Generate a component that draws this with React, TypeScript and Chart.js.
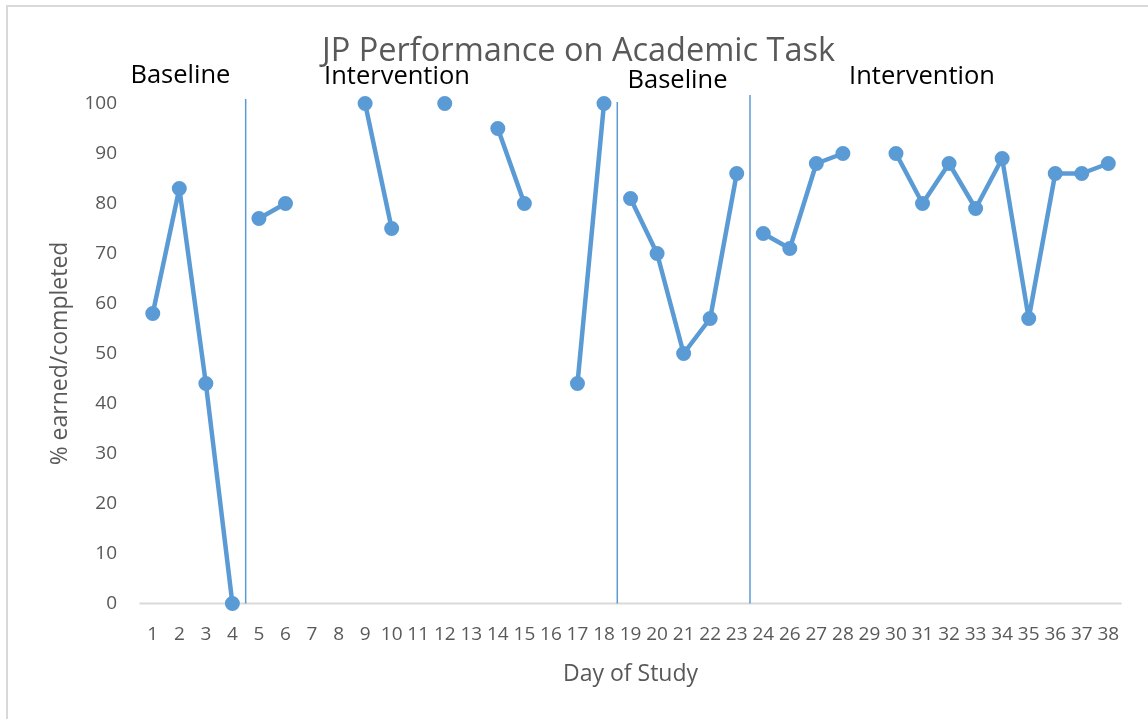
import React, { useEffect, useRef } from "react";
import { Chart, registerables } from "chart.js";

Chart.register(...registerables);

// ---- data ----
const days = [
  "1", "2", "3", "4", "5", "6", "7", "8", "9", "10", "11", "12", "13", "14", "15", "16", "17", "18",
  "19", "20", "21", "22", "23", "24", "26", "27", "28", "29", "30", "31", "32", "33", "34", "35", "36", "37", "38",
];
// Baseline (days 1–4)
const baseline1 = [58, 83, 44, 0];
// Intervention (days 5–18)
const intervention1 = [77, 80, null, null, 100, 75, null, 100, null, 95, 80, null, 44, 100];
// Baseline (days 19–23)
const baseline2 = [81, 70, 50, 57, 86];
// Intervention (days 24, 26–38)
const intervention2 = [74, 71, 88, 90, null, 90, 80, 88, 79, 89, 57, 86, 86, 88];

const phaseNames = ["Baseline", "Intervention", "Baseline", "Intervention"];
const phaseStartIndex = [0, 4, 18, 23];
// phase-change lines (category index position, top value)
const phaseLineAt = [3.5, 17.5, 22.5];
const phaseLineTop = [100.9, 100.3, 101.7];
// phase label anchors (category index centre, value at text baseline)
const phaseLabelX = [1.04, 9.2, 19.77, 28.98];
const phaseLabelY = [104.1, 103.9, 103.1, 103.9];

const yTicks = [0, 10, 20, 30, 40, 50, 60, 70, 80, 90, 100];

const TITLE = "JP Performance on Academic Task";
const X_TITLE = "Day of Study";
const Y_TITLE = "% earned/completed";

const BLUE = "#5b9bd5";
const GRAY = "#595959";
const AXIS = "#d9d9d9";
const FONT = "'Open Sans', sans-serif";

function place(values: (number | null)[], start: number): (number | null)[] {
  const out: (number | null)[] = days.map(() => null);
  values.forEach((v, i) => {
    out[start + i] = v;
  });
  return out;
}

const W = 1148;
const H = 719;

export default function App() {
  const ref = useRef<HTMLCanvasElement | null>(null);

  useEffect(() => {
    const canvas = ref.current;
    if (!canvas) return;
    const series = [baseline1, intervention1, baseline2, intervention2];

    const decor = {
      id: "decor",
      beforeDraw(chart: any) {
        const ctx = chart.ctx;
        ctx.save();
        ctx.fillStyle = "#ffffff";
        ctx.fillRect(0, 0, W, H);
        ctx.strokeStyle = AXIS;
        ctx.lineWidth = 2;
        ctx.strokeRect(7, 6, 3000, 3000);
        ctx.restore();
      },
      beforeDatasetsDraw(chart: any) {
        const ctx = chart.ctx;
        const xs = chart.scales.x;
        const ys = chart.scales.y;
        const area = chart.chartArea;
        ctx.save();
        // x axis line
        ctx.strokeStyle = AXIS;
        ctx.lineWidth = 2;
        ctx.beginPath();
        ctx.moveTo(area.left, area.bottom);
        ctx.lineTo(area.right, area.bottom);
        ctx.stroke();
        // phase lines
        ctx.strokeStyle = BLUE;
        ctx.lineWidth = 1.5;
        phaseLineAt.forEach((p, i) => {
          const fl = Math.floor(p);
          const x0 = xs.getPixelForValue(fl);
          const x1 = xs.getPixelForValue(fl + 1);
          const x = x0 + (x1 - x0) * (p - fl);
          ctx.beginPath();
          ctx.moveTo(x, ys.getPixelForValue(phaseLineTop[i]));
          ctx.lineTo(x, area.bottom);
          ctx.stroke();
        });
        ctx.restore();
      },
      afterDatasetsDraw(chart: any) {
        const ctx = chart.ctx;
        const xs = chart.scales.x;
        const ys = chart.scales.y;
        const area = chart.chartArea;
        ctx.save();
        // title
        ctx.fillStyle = GRAY;
        ctx.textAlign = "center";
        ctx.textBaseline = "alphabetic";
        ctx.font = `32.5px ${FONT}`;
        ctx.fillText(TITLE, (area.left + area.right) / 2 - 52, 61);
        // phase labels
        ctx.fillStyle = "#000000";
        ctx.font = `25.5px ${FONT}`;
        phaseNames.forEach((name, i) => {
          const p = phaseLabelX[i];
          const fl = Math.floor(p);
          const x0 = xs.getPixelForValue(fl);
          const x1 = xs.getPixelForValue(fl + 1);
          const x = x0 + (x1 - x0) * (p - fl);
          ctx.fillText(name, x, ys.getPixelForValue(phaseLabelY[i]));
        });
        // axis titles
        ctx.fillStyle = GRAY;
        ctx.font = `23px ${FONT}`;
        ctx.fillText(X_TITLE, (area.left + area.right) / 2, 680.7);
        ctx.save();
        ctx.translate(66.5, (area.top + area.bottom) / 2);
        ctx.rotate(-Math.PI / 2);
        ctx.fillText(Y_TITLE, 0, 0);
        ctx.restore();
        ctx.restore();
      },
    };

    const chart = new Chart(canvas, {
      type: "line",
      data: {
        labels: days,
        datasets: series.map((s, i) => ({
          label: phaseNames[i],
          data: place(s, phaseStartIndex[i]),
          borderColor: BLUE,
          backgroundColor: BLUE,
          borderWidth: 4.5,
          borderJoinStyle: "round" as const,
          borderCapStyle: "round" as const,
          pointRadius: 6.5,
          pointHoverRadius: 6.5,
          pointBorderWidth: 2,
          pointBackgroundColor: BLUE,
          pointBorderColor: BLUE,
          tension: 0,
          spanGaps: false,
          fill: false,
          clip: false as any,
        })),
      },
      options: {
        responsive: false,
        animation: false,
        devicePixelRatio: 1,
        layout: { padding: { left: 0, top: 103.5, right: 26.4, bottom: 0 } },
        plugins: {
          legend: { display: false },
          title: { display: false },
          tooltip: { enabled: false },
        },
        scales: {
          x: {
            type: "category",
            offset: true,
            grid: { display: false, drawTicks: false },
            border: { display: false },
            ticks: {
              autoSkip: false,
              maxRotation: 0,
              minRotation: 0,
              color: GRAY,
              padding: 20,
              font: { family: FONT, size: 19 },
            },
            afterFit(scale: any) {
              scale.height = 115.5;
            },
          },
          y: {
            min: 0,
            max: 100,
            grid: { display: false, drawTicks: false },
            border: { display: false },
            afterBuildTicks(scale: any) {
              scale.ticks = yTicks.map((v) => ({ value: v }));
            },
            ticks: {
              color: GRAY,
              padding: 22.5,
              font: { family: FONT, size: 19 },
            },
            afterFit(scale: any) {
              scale.width = 139.5;
            },
          },
        },
      },
      plugins: [decor],
    });
    return () => chart.destroy();
  }, []);

  return (
    <div style={{ position: "absolute", left: 0, top: 0, width: W, height: H, background: "#fff" }}>
      <canvas ref={ref} width={W} height={H} style={{ width: W, height: H, display: "block" }} />
    </div>
  );
}
